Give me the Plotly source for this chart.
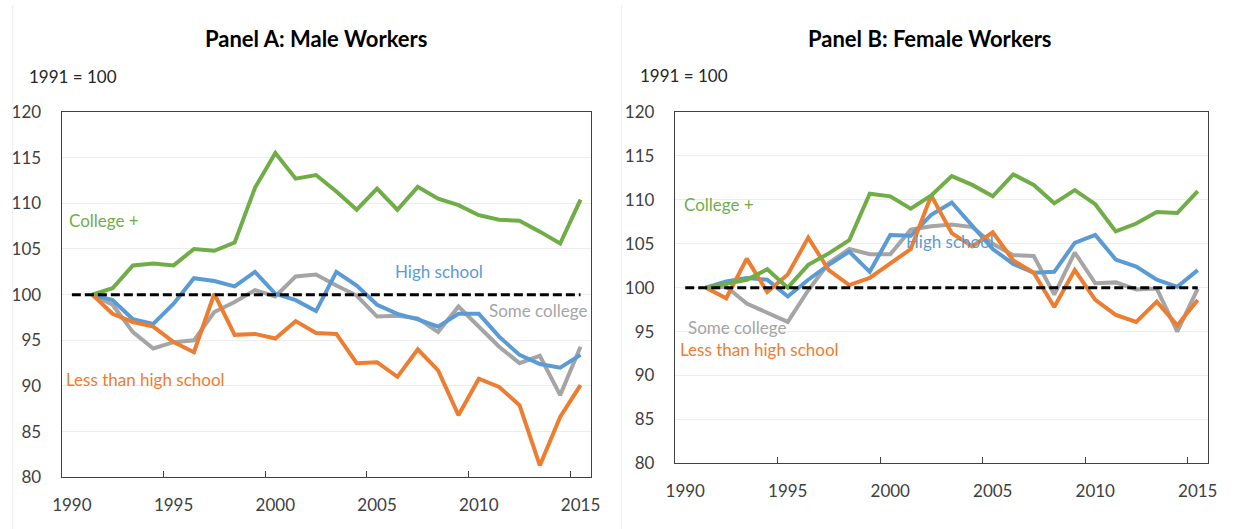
import plotly.graph_objects as go
from plotly.subplots import make_subplots

# index values, 1991 = 100
years = list(range(1991, 2016))
base_years = [1990, 2015]
base_values = [100, 100]
tick_years = [1990, 1995, 2000, 2005, 2010, 2015]

male_college = [100, 100.7, 103.2, 103.4, 103.2, 105.0, 104.8, 105.7, 111.7, 115.5,
                112.7, 113.1, 111.3, 109.3, 111.6, 109.3, 111.8, 110.5, 109.8, 108.7,
                108.2, 108.1, 106.9, 105.6, 110.4]
male_hs = [100, 99.4, 97.3, 96.8, 99.0, 101.8, 101.5, 100.9, 102.5, 100.1,
           99.4, 98.2, 102.5, 101.0, 98.9, 97.9, 97.3, 96.5, 97.9, 97.9,
           95.4, 93.4, 92.4, 92.0, 93.4]
male_some = [100, 98.9, 95.9, 94.1, 94.8, 95.0, 98.1, 99.2, 100.5, 99.8,
             102.0, 102.2, 101.0, 99.9, 97.6, 97.7, 97.4, 95.9, 98.7, 96.5,
             94.3, 92.5, 93.3, 89.0, 94.3]
male_less = [100, 97.9, 97.0, 96.5, 94.8, 93.7, 100.1, 95.6, 95.7, 95.2,
             97.1, 95.8, 95.7, 92.5, 92.6, 91.0, 94.0, 91.7, 86.8, 90.8,
             89.9, 87.9, 81.3, 86.6, 90.1]

fem_college = [100, 100.5, 100.9, 102.1, 100.0, 102.6, 103.9, 105.4, 110.7, 110.4,
               109.0, 110.5, 112.7, 111.7, 110.4, 112.9, 111.7, 109.6, 111.1, 109.5,
               106.4, 107.3, 108.6, 108.5, 111.0]
fem_hs = [100, 100.7, 101.1, 100.9, 99.0, 100.9, 102.6, 104.1, 101.8, 106.0,
          105.9, 108.3, 109.7, 107.1, 104.4, 102.7, 101.7, 101.8, 105.1, 106.0,
          103.2, 102.4, 100.9, 100.1, 102.0]
fem_some = [100, 100.1, 98.2, 97.1, 96.1, 99.7, 102.8, 104.4, 103.8, 103.8,
            106.6, 107.0, 107.2, 106.9, 105.0, 103.7, 103.6, 99.2, 104.0, 100.5,
            100.6, 99.8, 99.9, 95.0, 99.9]
fem_less = [100, 98.8, 103.3, 99.5, 101.5, 105.7, 102.0, 100.3, 101.1, 102.8,
            104.4, 110.5, 106.2, 104.7, 106.3, 103.1, 101.7, 97.8, 102.0, 98.6,
            96.9, 96.1, 98.4, 95.7, 98.6]

GREEN = "#70AD47"
BLUE = "#5B9BD5"
GRAY = "#A5A5A5"
ORANGE = "#ED7D31"
FONT = "Lato"
W, H = 1234, 529

fig = make_subplots(rows=1, cols=2)

panels = [
    (1, [(male_some, GRAY), (male_hs, BLUE), (male_less, ORANGE), (male_college, GREEN)]),
    (2, [(fem_some, GRAY), (fem_hs, BLUE), (fem_less, ORANGE), (fem_college, GREEN)]),
]
for col, series in panels:
    for values, color in series:
        fig.add_trace(
            go.Scatter(x=years, y=values, mode="lines",
                       line=dict(color=color, width=4), hoverinfo="skip"),
            row=1, col=col,
        )
    fig.add_trace(
        go.Scatter(x=base_years, y=base_values, mode="lines",
                   line=dict(color="black", width=3, dash="9px,4px"), hoverinfo="skip"),
        row=1, col=col,
    )


def px(x):
    return x / W


def py(y):
    return 1 - y / H


axis_common = dict(
    showline=True, linecolor="#404040", linewidth=1.3, mirror=True,
    tickfont=dict(family=FONT, size=17, color="#404040"),
    zeroline=False, automargin=False,
)
fig.update_xaxes(
    range=[1989.5, 2015.5], tickmode="array", tickvals=tick_years,
    ticks="", showgrid=False, ticklabelstandoff=12,
    minor=dict(tickmode="array", tickvals=[1994.5, 1999.5, 2004.5, 2009.5, 2014.5],
               ticks="inside", ticklen=6, tickcolor="#404040", showgrid=False),
    **axis_common,
)
fig.update_yaxes(
    range=[80, 120], tickmode="linear", tick0=80, dtick=5,
    ticks="", showgrid=True, gridcolor="#EDEDED", gridwidth=1,
    ticklabelstandoff=16, **axis_common,
)

fig.update_layout(
    xaxis=dict(domain=[px(61.7), px(590.7)]),
    yaxis=dict(domain=[py(477.3), py(112)]),
    xaxis2=dict(domain=[px(675), px(1208)]),
    yaxis2=dict(domain=[py(463.3), py(112)]),
)

labels = [
    ("<b>Panel A: Male Workers</b>", 316, 38, "center", "black", 22),
    ("<b>Panel B: Female Workers</b>", 930, 38, "center", "black", 22),
    ("1991 = 100", 27, 76, "left", "#262626", 17),
    ("1991 = 100", 638, 75, "left", "#262626", 17),
    ("College +", 67, 220, "left", GREEN, 17),
    ("High school", 393, 271, "left", BLUE, 17),
    ("Some college", 487, 310, "left", GRAY, 17),
    ("Less than high school", 64, 379, "left", ORANGE, 17),
    ("College +", 682, 204, "left", GREEN, 17),
    ("High school", 904, 242, "left", BLUE, 17),
    ("Some college", 686, 327, "left", GRAY, 17),
    ("Less than high school", 678, 349, "left", ORANGE, 17),
]
for text, x, y, anchor, color, size in labels:
    fig.add_annotation(
        text=text, xref="paper", yref="paper", x=px(x), y=py(y),
        xanchor=anchor, yanchor="middle", showarrow=False,
        font=dict(family=FONT, size=size, color=color),
    )

# faint chart-area edges
for xs in (12.7, 621.7):
    fig.add_shape(type="line", xref="paper", yref="paper",
                  x0=px(xs), x1=px(xs), y0=py(5), y1=0,
                  line=dict(color="#EEEEEE", width=1))

fig.update_layout(
    width=W, height=H,
    margin=dict(l=0, r=0, t=0, b=0, pad=0, autoexpand=False),
    paper_bgcolor="white", plot_bgcolor="white",
    showlegend=False,
    font=dict(family=FONT),
)

# drop the browser's default body margin so the figure sits at the page corner
fig.write_html(
    "out.html",
    config={"displayModeBar": False},
    post_script="document.body.style.margin='0';document.body.style.overflow='hidden';",
)
